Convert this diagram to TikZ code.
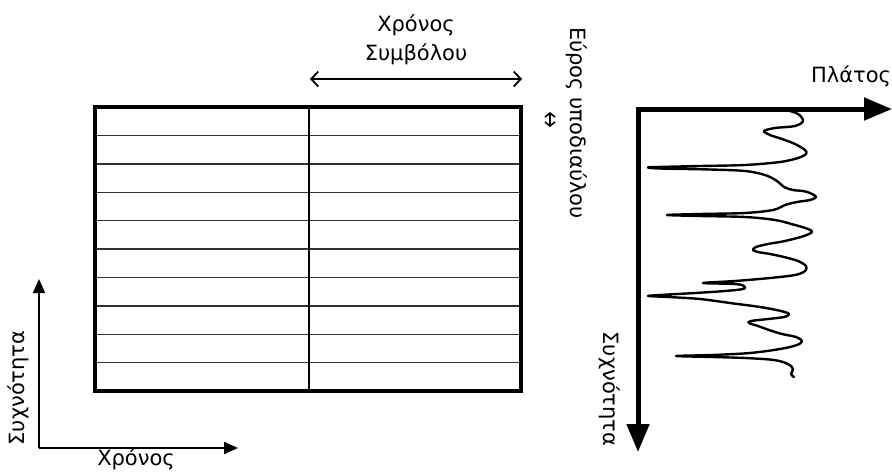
\documentclass[tikz,border=0pt]{standalone}
\usepackage{fontspec}
\setmainfont{DejaVu Sans}
\usetikzlibrary{arrows.meta}

\tikzset{
  label/.style={inner sep=0pt, font=\fontsize{21}{29}\selectfont},
  frame/.style={line width=4pt},
  rowline/.style={line width=1.4pt, black!80},
  colline/.style={line width=1.3pt},
  symarrow/.style={line width=1.8pt, {Straight Barb[length=7pt,width=15pt,line width=1.8pt]}-{Straight Barb[length=7pt,width=15pt,line width=1.8pt]}},
  bwmark/.style={line width=1.6pt, {Straight Barb[length=4pt,width=10pt,line width=1.6pt]}-{Straight Barb[length=4pt,width=10pt,line width=1.6pt]}},
  smallaxis/.style={line width=2pt, -{Triangle[length=14pt,width=12pt]}},
  bigaxis/.style={line width=5pt, -{Triangle[length=28pt,width=22pt]}},
  spectrum/.style={line width=2.4pt, line join=round, line cap=round}
}

\begin{document}
\begin{tikzpicture}[x=1pt, y=-1pt]
  \useasboundingbox (0,0) rectangle (892,472);

  % time-frequency grid
  \coordinate (gNW) at (95,107);
  \coordinate (gSE) at (521,391);
  \foreach \i in {1,...,9}
    \draw[rowline] (95,{107+28.4*\i}) -- (521,{107+28.4*\i});
  \coordinate (colTop) at (309,107);
  \coordinate (colBot) at (309,391);
  \draw[colline] (colTop) -- (colBot);
  \draw[frame] (gNW) rectangle (gSE);

  % symbol duration
  \coordinate (symL) at (310,79);
  \coordinate (symR) at (522,79);
  \draw[symarrow] (symL) -- (symR);
  \node[label, align=center] (symtime) at (416,40) {Χρόνος\\Συμβόλου};

  % subchannel width
  \node[label, rotate=-90] (bwtext) at (577,123) {Εύρος υποδιαύλου};
  \coordinate (bwTop) at (550,112);
  \coordinate (bwBot) at (550,127);
  \draw[bwmark] (bwTop) -- (bwBot);

  % time / frequency axes
  \coordinate (tfO) at (39,448);
  \coordinate (tfUp) at (39,279);
  \coordinate (tfRight) at (238,448);
  \draw[smallaxis] (tfO) -- (tfUp);
  \draw[smallaxis] (tfO) -- (tfRight);
  \node[label, rotate=90] (tfFreq) at (18,388) {Συχνότητα};
  \node[label] (tfTime) at (136,459) {Χρόνος};

  % amplitude / frequency axes
  \coordinate (amO) at (638,109);
  \coordinate (amRight) at (892,109);
  \coordinate (amDown) at (638,452);
  \draw[bigaxis] ([xshift=-2.5pt]amO) -- (amRight);
  \draw[bigaxis] (amO) -- (amDown);
  \node[label] (amAmp) at (851,76) {Πλάτος};
  \node[label, rotate=-90] (amFreq) at (610,389) {Συχνότητα};

  % spectrum
  \draw[spectrum] plot[smooth, tension=0.55] coordinates {
    (762,109) (785,110) (798,114) (803,121) (795,126) (775,128) (764,131)
    (770,135) (782,139) (795,144) (805,150) (806,154) (798,158) (780,162)
    (745,165) (700,166) (658,167) (648,167.5) (660,168.5) (710,169.5)
    (745,171) (765,175) (777,181) (784,187) (793,190) (803,191) (810,193)
    (816,197) (810,200) (797,202) (785,205) (773,210) (745,213) (700,214)
    (667,215) (700,216) (745,217) (775,220) (795,225) (808,229) (812,232)
    (804,236) (785,241) (768,244) (756,247) (753,250) (758,252) (770,254)
    (784,257) (798,261) (806,266) (805,271) (795,275) (770,278) (735,281)
    (703,283) (735,284) (744,286) (743,289) (725,291) (695,293) (660,295)
    (648,296) (668,297) (700,299) (730,303) (760,307) (781,311) (789,314)
    (784,317) (768,319) (751,321) (749,323) (758,326) (769,330) (782,334)
    (796,337) (802,341) (797,345) (780,349) (750,353) (712,355) (676,356)
    (712,357) (745,358) (774,360) (788,364) (793,369) (791,374) (794,377)
  };
\end{tikzpicture}
\end{document}
